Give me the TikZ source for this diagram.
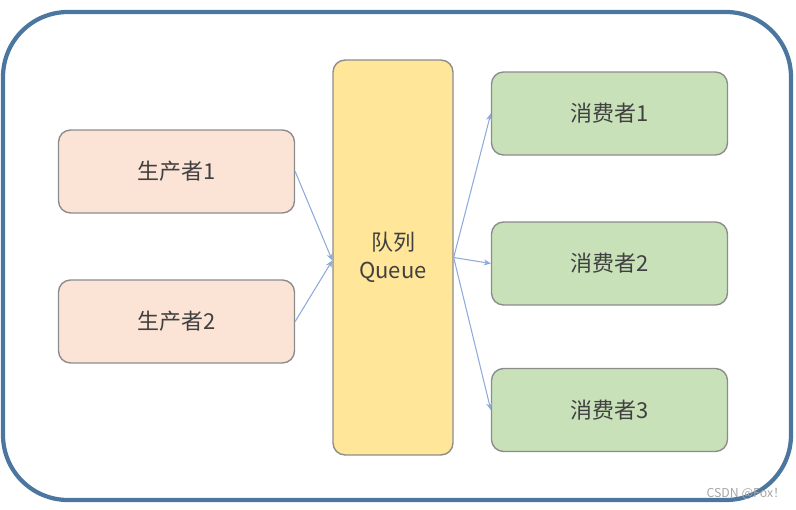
\documentclass[tikz,border=0pt]{standalone}
\usepackage{fontspec}
\setmainfont{Liberation Sans}
\newfontfamily\cjk{Noto Sans CJK SC}
\usepackage{xcolor}
\usetikzlibrary{arrows.meta, positioning, calc}

\definecolor{framecol}{HTML}{4A76A0}
\definecolor{prodfill}{HTML}{FBE3D6}
\definecolor{queuefill}{HTML}{FFE699}
\definecolor{consfill}{HTML}{C8E1B8}
\definecolor{edgecol}{HTML}{8C8C8C}
\definecolor{arrowcol}{HTML}{8EAADB}
\definecolor{textcol}{HTML}{404040}

\tikzset{
    box/.style={draw=edgecol, line width=0.8pt, rounded corners=0.24cm,
        text=textcol, font=\cjk\fontsize{12.5}{16}\selectfont, align=center,
        minimum width=4.72cm, minimum height=1.66cm},
    prodbox/.style={box, fill=prodfill},
    consbox/.style={box, fill=consfill},
    queuebox/.style={box, fill=queuefill, minimum width=2.4cm, minimum height=7.9cm},
    link/.style={draw=arrowcol, line width=0.6pt, -{Stealth[length=4pt, width=3.5pt]}}
}

\begin{document}
\begin{tikzpicture}[x=0.02cm, y=-0.02cm]
    \useasboundingbox (0, 0) rectangle (796, 510);

    % 外框
    \draw[framecol, line width=2.4pt, rounded corners=1.3cm] (3, 12) rectangle (791, 500);

    % 生产者
    \node[prodbox] (p1) at (176.5, 171.5) {生产者1};
    \node[prodbox] (p2) at (176.5, 321.5) {生产者2};

    % 队列
    \node[queuebox] (q) at (393, 257.5) {队列\\Queue};

    % 消费者
    \node[consbox] (c1) at (609.5, 113.5) {消费者1};
    \node[consbox] (c2) at (609.5, 263.5) {消费者2};
    \node[consbox] (c3) at (609.5, 410) {消费者3};

    % 箭头
    \coordinate (qin) at ($(q.west)+(0, 3)$);
    \draw[link] (p1.east) -- (qin);
    \draw[link] (p2.east) -- (qin);
    \draw[link] (q.east) -- (c1.west);
    \draw[link] (q.east) -- (c2.west);
    \draw[link] (q.east) -- (c3.west);

    % 水印
    \node[text=gray!70, font=\cjk\fontsize{7}{8}\selectfont] (mark) at (746, 494) {CSDN @Fox！};
\end{tikzpicture}
\end{document}
